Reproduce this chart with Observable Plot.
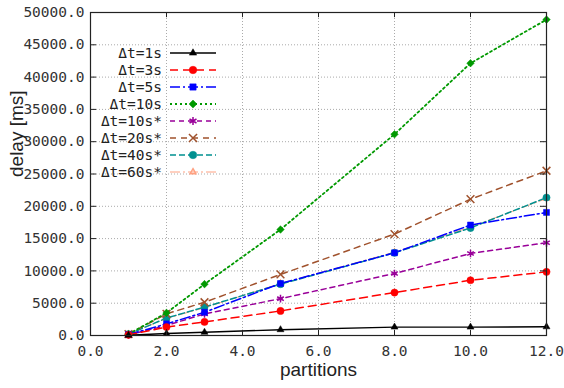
<!DOCTYPE html>
<html><head><meta charset="utf-8">
<script src="https://cdn.jsdelivr.net/npm/d3@7"></script>
<script src="https://cdn.jsdelivr.net/npm/@observablehq/plot@0.6"></script>
<style>
body{margin:0;background:#fff;}
#wrap{position:relative;width:564px;height:388px;}
#legend{position:absolute;left:0;top:0;}
</style></head>
<body><div id="wrap"></div>
<script>
const partitions = [1, 2, 3, 5, 8, 10, 12];
const seriesNames = ["Δt=1s","Δt=3s","Δt=5s","Δt=10s","Δt=10s*","Δt=20s*","Δt=40s*","Δt=60s*"];
const dt1s   = [50, 300, 500, 900, 1300, 1300, 1350];
const dt3s   = [100, 1300, 2100, 3800, 6650, 8550, 9850];
const dt5s   = [150, 1800, 3600, 8050, 12800, 17100, 19050];
const dt10s  = [200, 3500, 7950, 16400, 31150, 42150, 48900];
const dt10sS = [100, 1550, 3350, 5700, 9600, 12700, 14350];
const dt20sS = [200, 3350, 5150, 9450, 15700, 21100, 25500];
const dt40sS = [200, 2700, 4400, 7950, 12800, 16650, 21350];
const dt60sS = [200, 2650, 4300, 8050, 12900, 16800, 21200];
const xTicks = [0, 2, 4, 6, 8, 10, 12];
const yTicks = [0, 5000, 10000, 15000, 20000, 25000, 30000, 35000, 40000, 45000, 50000];

const values = [dt1s, dt3s, dt5s, dt10s, dt10sS, dt20sS, dt40sS, dt60sS];
const styles = [
  {color:"#000000", dash:null, sym:"triangle", fill:true, w:1.4, r:2.6},
  {color:"#ff0000", dash:"8,5", sym:"circle", fill:true, w:1.5, r:3.6},
  {color:"#0000ff", dash:"10,3,2,3", sym:"square", fill:true, w:1.5, r:3.4},
  {color:"#009900", dash:"2,3", sym:"diamond2", fill:true, w:1.8, r:3.4},
  {color:"#990099", dash:"5,4", sym:"asterisk", fill:false, w:1.5, r:3.6},
  {color:"#a0522d", dash:"6,5", sym:"times", fill:false, w:1.5, r:3.6},
  {color:"#009090", dash:"6,3", sym:"circle", fill:true, w:1.5, r:3.6},
  {color:"#ffa080", dash:"10,3,2,3", sym:"triangle2", fill:false, w:1, r:2.6}
];
const data = seriesNames.map((n,i)=>partitions.map((p,j)=>({series:n, x:p, y:values[i][j]})));

const fmt = d3.format(".1f");
const marks = [
  Plot.gridX(xTicks, {stroke:"#aaa", strokeOpacity:1, strokeDasharray:"1,2"}),
  Plot.gridY(yTicks, {stroke:"#aaa", strokeOpacity:1, strokeDasharray:"1,2"}),
];
const order = [7,6,5,4,3,2,1,0];
for (const i of order) {
  const s = styles[i];
  marks.push(Plot.line(data[i], {x:"x", y:"y", stroke:s.color, strokeWidth:s.w, strokeDasharray:s.dash}));
}
for (const i of order) {
  const s = styles[i];
  marks.push(Plot.dot(data[i], {x:"x", y:"y", symbol:()=>s.sym, r:s.r,
    fill: s.fill ? s.color : "none", stroke: s.color, strokeWidth: s.fill ? 0.5 : 1.5}));
}
marks.push(
  Plot.ruleY(yTicks.slice(1,-1), {y:d=>d, x1:0, x2:0.16, stroke:"#222"}),
  Plot.ruleY(yTicks.slice(1,-1), {y:d=>d, x1:11.84, x2:12, stroke:"#222"}),
  Plot.ruleX(xTicks.slice(1,-1), {x:d=>d, y1:0, y2:800, stroke:"#222"}),
  Plot.ruleX(xTicks.slice(1,-1), {x:d=>d, y1:49200, y2:50000, stroke:"#222"}),
  Plot.frame({stroke:"#222", strokeWidth:1.2}),
  Plot.axisX(xTicks, {tickSize:0, tickFormat:fmt, tickPadding:10, fontSize:14.5, fill:"#333",
    fontFamily:"DejaVu Sans Mono", label:null}),
  Plot.axisY(yTicks, {tickSize:0, tickFormat:fmt, tickPadding:6, fontSize:14.5, fill:"#333",
    fontFamily:"DejaVu Sans Mono", label:null}),
  Plot.text(["partitions"], {frameAnchor:"bottom", dy:40, fontSize:19, fill:"#222", fontFamily:"Liberation Sans"}),
  Plot.text(["delay [ms]"], {frameAnchor:"left", dx:-74, dy:3, rotate:-90, fontSize:19, fill:"#222", fontFamily:"Liberation Sans"})
);

const chart = Plot.plot({
  width:564, height:388,
  marginLeft:90, marginRight:18, marginTop:12, marginBottom:53,
  x:{domain:[0,12]}, y:{domain:[0,50000]},
  style:{background:"#fff", overflow:"visible"},
  marks
});
document.getElementById("wrap").appendChild(chart);

// legend overlay
const svg = d3.select("#wrap").append("svg").attr("id","legend").attr("width",564).attr("height",388);
const symMap = {triangle:d3.symbolTriangle, circle:d3.symbolCircle, square:d3.symbolSquare, diamond2:d3.symbolDiamond2,
  asterisk:d3.symbolAsterisk, times:d3.symbolTimes, triangle2:d3.symbolTriangle2};
seriesNames.forEach((n,i)=>{
  const s = styles[i];
  const yy = 53 + i*17;
  const g = svg.append("g");
  g.append("text").attr("x",162).attr("y",yy).attr("dy","0.35em").attr("text-anchor","end")
    .attr("font-family","DejaVu Sans Mono").attr("font-size",14.5).attr("fill","#222").text(n);
  g.append("line").attr("x1",170).attr("x2",216).attr("y1",yy).attr("y2",yy)
    .attr("stroke",s.color).attr("stroke-width",s.w).attr("stroke-dasharray",s.dash);
  const size = Math.PI * s.r * s.r * 1.1;
  g.append("path").attr("transform",`translate(193,${yy})`).attr("d",d3.symbol(symMap[s.sym], size)())
    .attr("fill", s.fill ? s.color : "none").attr("stroke", s.color).attr("stroke-width", s.fill?0.5:1.5);
});
</script></body></html>
